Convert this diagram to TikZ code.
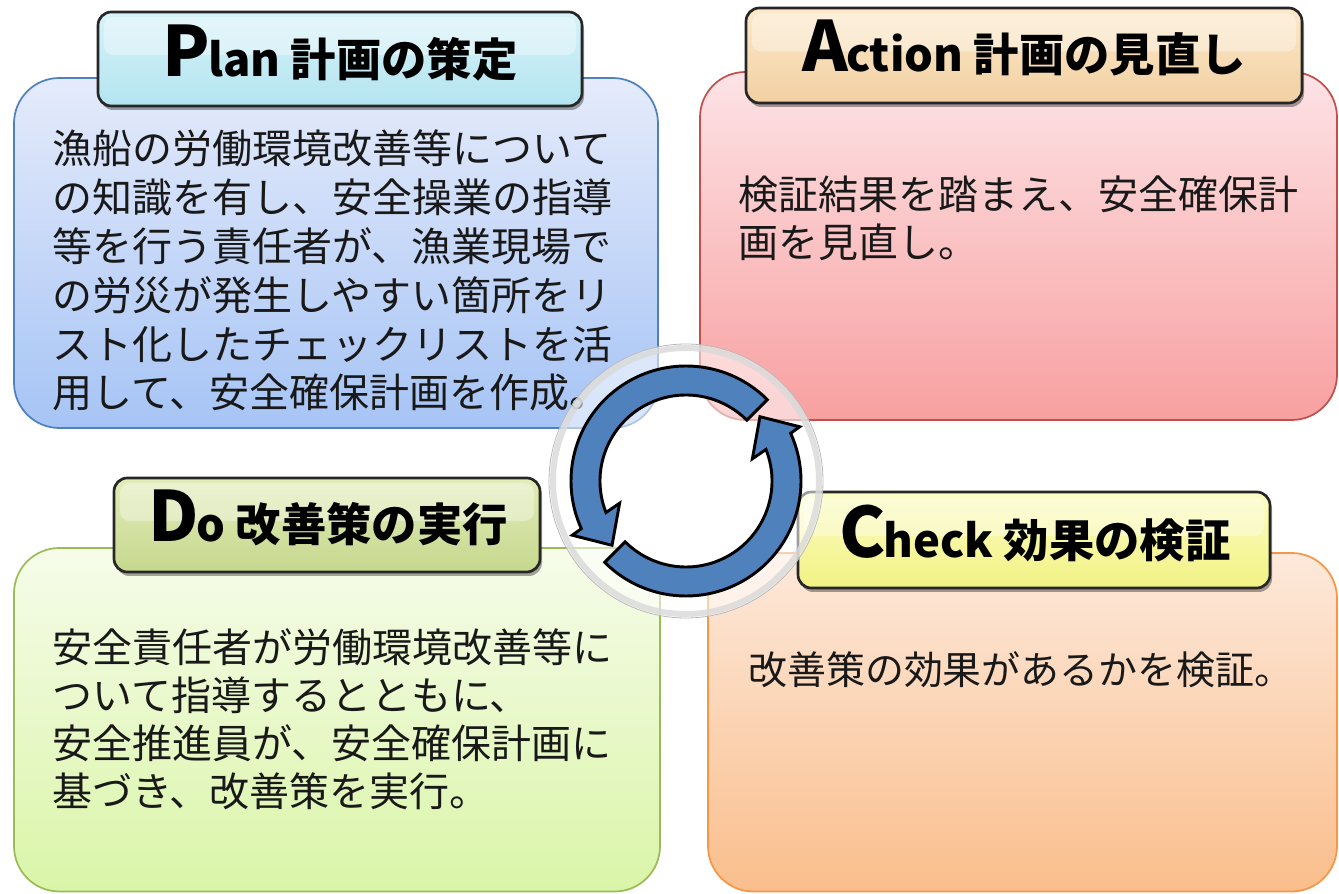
\documentclass[tikz,border=0pt]{standalone}
\usepackage{fontspec}
\newfontfamily\jp{Noto Sans CJK JP}
\usetikzlibrary{calc}
\definecolor{planline}{RGB}{79,129,189}
\definecolor{plantop}{RGB}{229,235,251}
\definecolor{planbot}{RGB}{166,196,245}
\definecolor{actline}{RGB}{192,80,77}
\definecolor{acttop}{RGB}{253,227,230}
\definecolor{actbot}{RGB}{248,160,160}
\definecolor{doline}{RGB}{155,187,89}
\definecolor{dotop}{RGB}{246,252,234}
\definecolor{dobot}{RGB}{218,245,168}
\definecolor{chkline}{RGB}{247,150,70}
\definecolor{chktop}{RGB}{253,233,219}
\definecolor{chkbot}{RGB}{250,190,140}
\definecolor{ptitletop}{RGB}{214,243,249}
\definecolor{ptitlebot}{RGB}{180,228,240}
\definecolor{atitletop}{RGB}{252,233,202}
\definecolor{atitlebot}{RGB}{242,208,162}
\definecolor{dtitletop}{RGB}{226,236,184}
\definecolor{dtitlebot}{RGB}{198,216,142}
\definecolor{ctitletop}{RGB}{252,252,196}
\definecolor{ctitlebot}{RGB}{242,242,132}
\definecolor{arrowblue}{RGB}{79,129,189}
\newcommand\mytitlebox[6]{%
  \fill[black,opacity=0.35,rounded corners=10pt] ({#1+2},{#2-4}) rectangle ({#3+2},{#4-4});
  \draw[titlebox,top color=#5,bottom color=#6] (#1,#2) rectangle (#3,#4);
  \fill[white,opacity=0.35,rounded corners=7pt] ({#1+6},{(#2+#4)/2+4}) rectangle ({#3-6},{#4-5});
}
\newcommand\bigL[1]{{\fontsize{52}{52}\selectfont #1}\kern-1.5pt}
\begin{document}
\begin{tikzpicture}[x=0.75pt,y=0.75pt,
  bodybox/.style={rounded corners=34pt,line width=1.3pt},
  titlebox/.style={draw=black!85,line width=2pt,rounded corners=10pt},
  bodytext/.style={font=\jp\fontsize{30}{36.6}\selectfont,align=left,inner sep=0pt,anchor=base west,text=black!90},
  titletext/.style={font=\jp\bfseries\fontsize{34}{34}\selectfont,inner sep=0pt,anchor=base},
  cyclearrow/.style={fill=arrowblue,draw=black,line width=2.2pt,line join=miter}]
\useasboundingbox (0,0) rectangle (1339,893);
% body boxes
\draw[bodybox,draw=planline,top color=plantop,bottom color=planbot] (14,465) rectangle (658,815);
\draw[bodybox,draw=actline,top color=acttop,bottom color=actbot] (700,473) rectangle (1337,821);
\draw[bodybox,draw=doline,top color=dotop,bottom color=dobot] (14,1.5) rectangle (660,345);
\draw[bodybox,draw=chkline,top color=chktop,bottom color=chkbot] (708,1.5) rectangle (1337,340);
% title boxes
\mytitlebox{98}{787}{582}{881}{ptitletop}{ptitlebot}
\mytitlebox{746}{790}{1302}{885}{atitletop}{atitlebot}
\mytitlebox{114}{321}{540}{415}{dtitletop}{dtitlebot}
\mytitlebox{798}{305}{1270}{401}{ctitletop}{ctitlebot}
\node[titletext] (plantitle) at (340,816) {\bigL{P}lan 計画の策定};
\node[titletext] (acttitle) at (1024,821) {\bigL{A}ction 計画の見直し};
\node[titletext] (dotitle) at (328,351) {\bigL{D}o 改善策の実行};
\node[titletext] (chktitle) at (1035,335) {\bigL{C}heck 効果の検証};
% body texts (anchor = baseline of last line)
\node[bodytext] (plantext) at (52,485) {漁船の労働環境改善等について\\の知識を有し、安全操業の指導\\等を行う責任者が、漁業現場で\\の労災が発生しやすい箇所をリ\\スト化したチェックリストを活\\用して、安全確保計画を作成。};
\node[bodytext] (acttext) at (738,635) {検証結果を踏まえ、安全確保計\\画を見直し。};
\node[bodytext,font=\jp\fontsize{30}{35.8}\selectfont] (dotext) at (52,87) {安全責任者が労働環境改善等に\\ついて指導するとともに、\\安全推進員が、安全確保計画に\\基づき、改善策を実行。};
\node[bodytext,font=\jp\fontsize{29.2}{35}\selectfont] (chktext) at (748,208) {改善策の効果があるかを検証。};
% glass circle
\fill[white,opacity=0.55] (686,412) circle[radius=137];
\draw[gray!30,opacity=0.8,line width=4.5pt] (686,412) circle[radius=133];
\draw[gray!55,line width=0.6pt] (686,412) circle[radius=137];
% cycle arrows
\foreach \rot in {0,180}{
  \begin{scope}[shift={(686,412)},rotate=\rot]
    \draw[cyclearrow] (45:115) arc[start angle=45,end angle=204.5,radius=115]
      -- (205.5:126) -- (221:98) -- (198.5:70) -- (201.5:86)
      arc[start angle=201.5,end angle=45,radius=86] -- cycle;
  \end{scope}
}
\end{tikzpicture}
\end{document}
